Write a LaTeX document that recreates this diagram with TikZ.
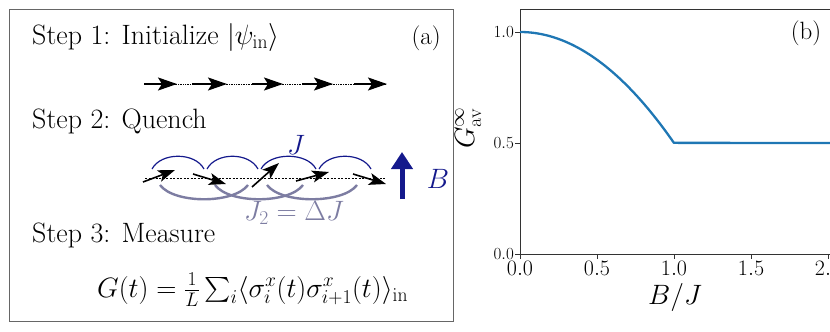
\RequirePackage{fix-cm}
\documentclass[tikz,border=0pt]{standalone}
\usepackage{amsmath}
\usetikzlibrary{arrows.meta}
\definecolor{navyc}{RGB}{20,25,140}
\definecolor{lav}{RGB}{125,125,162}
\definecolor{mplblue}{HTML}{1F77B4}
\newcommand{\fsMain}{\fontsize{28}{33}\selectfont}
\newcommand{\fsTick}{\fontsize{22}{26}\selectfont}
\newcommand{\fsYTick}{\fontsize{17}{20}\selectfont}
\newcommand{\fsPanel}{\fontsize{25}{30}\selectfont}
\begin{document}
\begin{tikzpicture}[x=1pt,y=-1pt,
  txt/.style={inner sep=0pt, font=\fsMain},
  spinA/.style={line width=1.9pt, -{Stealth[length=19pt,width=13pt,inset=4pt]}},
  spinB/.style={line width=1.6pt, -{Stealth[length=17pt,width=12pt,inset=4pt]}},
  jarc/.style={navyc, line width=1.2pt},
  jtwo/.style={lav, line width=2.4pt},
  axisline/.style={black!80, line width=0.9pt},
  tickl/.style={inner sep=0pt, font=\fsTick},
  ytickl/.style={inner sep=0pt, font=\fsYTick, anchor=east}]
\useasboundingbox (0,0) rectangle (830,332);

% ---------------- panel (a) -----------------
\node[draw=black!60, line width=1.1pt, minimum width=444pt, minimum height=312pt, inner sep=0pt, anchor=north west] (boxa) at (9,9) {};
\node[txt, anchor=base west] (s1) at (32,44) {Step 1: Initialize $|\psi_{\mathrm{in}}\rangle$};
\node[txt, anchor=base east, font=\fsPanel] (la) at (441,44) {(a)};
\node[txt, anchor=base west] (s2) at (32,128) {Step 2: Quench};
\node[txt, anchor=base west] (s3) at (32,242) {Step 3: Measure};
\node[txt, anchor=base west] (gt) at (97,297) {$G(t)=\frac{1}{L}\sum_i\langle\sigma_i^x(t)\sigma_{i+1}^x(t)\rangle_{\mathrm{in}}$};

% row 1: initial state
\coordinate (r1s) at (144,84);
\coordinate (r1e) at (387,84);
\draw[densely dotted, line width=0.7pt] (r1s) -- (r1e);
\foreach \i/\a/\b in {1/144/177, 2/192/227, 3/252/283, 4/302/333, 5/354/387}{
  \coordinate (p\i t) at (\a,84);
  \coordinate (p\i h) at (\b,84);
  \draw[spinA] (p\i t) -- (p\i h);
}

% row 2: quench
\coordinate (r2s) at (145,178);
\coordinate (r2e) at (385,178);
\draw[dashed, dash pattern=on 2pt off 1.5pt, line width=0.6pt] (r2s) -- (r2e);

% next-nearest-neighbour arcs (below)
\foreach \i/\a/\b in {1/160/248, 2/215/303, 3/267/357}{
  \coordinate (l\i a) at (\a,185);
  \coordinate (l\i b) at (\b,185);
  \draw[jtwo] (l\i a) .. controls +(14,19) and +(-14,19) .. (l\i b);
}
% nearest-neighbour arcs (above)
\foreach \i/\a/\b in {1/152/204, 2/207/258, 3/261/316, 4/319/371}{
  \coordinate (u\i a) at (\a,169);
  \coordinate (u\i b) at (\b,169);
  \draw[jarc] (u\i a) .. controls +(9,-17) and +(-9,-17) .. (u\i b);
}
% tilted spins
\foreach \i/\ax/\ay/\bx/\by in {1/143/182/175/170, 2/193/174/226/184, 3/252/187/279/163, 4/296/181/329/172, 5/353/174/386/184}{
  \coordinate (q\i t) at (\ax,\ay);
  \coordinate (q\i h) at (\bx,\by);
  \draw[spinB] (q\i t) -- (q\i h);
}
\node[txt, text=navyc] (lJ) at (296,145) {$J$};
\node[txt, text=lav] (lJ2) at (294,213) {$J_2=\Delta J$};
\coordinate (bt) at (402,199);
\coordinate (bh) at (402,152);
\draw[navyc, line width=5pt, -{Triangle[length=17pt,width=21pt]}] (bt) -- (bh);
\node[txt, text=navyc] (lB) at (438,179) {$B$};

% ---------------- panel (b) -----------------
\node[inner sep=0pt, font=\fsMain, rotate=90] (yl) at (468,128) {$G^{\infty}_{\mathrm{av}}$};
\begin{scope}
\clip (456,0) rectangle (830,332);
\coordinate (o) at (520,254);
\coordinate (yt) at (520,9);
\coordinate (xr) at (836,254);
\coordinate (tr) at (836,9);
\draw[axisline] (yt) -- (o) -- (xr);
\draw[axisline] (yt) -- (tr);
% x ticks
\foreach \v/\lab in {0/0.0, 0.5/0.5, 1/1.0, 1.5/1.5, 2/2.0}{
  \coordinate (xt) at ({520+154*\v},254);
  \draw[axisline] (xt) -- ++(0,5);
  \node[tickl] at ({520+154*\v},268) {$\lab$};
}
% y ticks
\foreach \v/\lab in {0/0.0, 0.5/0.5, 1/1.0}{
  \coordinate (ytk) at (520,{254-222*\v});
  \draw[axisline] (ytk) -- ++(-5,0);
  \node[ytickl] at (514,{254-222*\v}) {$\lab$};
}
% curve
\draw[mplblue, line width=2.3pt, line join=round]
  plot[domain=0:1, samples=60, smooth] ({520+154*\x},{254-222*(1-\x*\x/2)})
  -- (836,143);
\node[inner sep=0pt, font=\fsPanel] (lb) at (806,33) {(b)};
\node[inner sep=0pt, font=\fsMain] (xl) at (675,297) {$B/J$};
\end{scope}
\end{tikzpicture}
\end{document}
